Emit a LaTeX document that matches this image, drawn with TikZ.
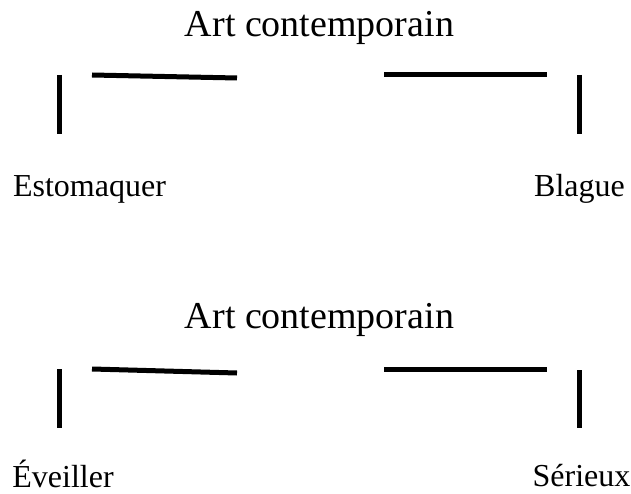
\documentclass[tikz,border=0pt]{standalone}
\usepackage{fontspec}
\setmainfont{Liberation Serif}

\begin{document}
\begin{tikzpicture}[x=1pt,y=-1pt,
        titre/.style={anchor=base, inner sep=0pt, font=\fontsize{38}{42}\selectfont},
        pole/.style={anchor=base, inner sep=0pt, font=\fontsize{32}{36}\selectfont},
        trait/.style={black, line width=5pt}]
        \useasboundingbox (0,0) rectangle (631,494);
        % premier carre
        \node[titre] (titreA) at (319.5,37) {Art contemporain};
        \draw[trait] (59,75) -- (59,134);
        \draw[trait] (92,75) -- (237,78);
        \draw[trait] (384,75) -- (547,75);
        \draw[trait] (579,75) -- (579,134);
        \node[pole] (estomaquer) at (89.5,197) {Estomaquer};
        \node[pole] (blague) at (579.5,197) {Blague};
        % second carre
        \node[titre] (titreB) at (319.5,328) {Art contemporain};
        \draw[trait] (59,369) -- (59,428);
        \draw[trait] (92,369) -- (237,373);
        \draw[trait] (384,369) -- (547,369);
        \draw[trait] (579,370) -- (579,428);
        \node[pole] (eveiller) at (63,487) {Éveiller};
        \node[pole] (serieux) at (581.5,486) {Sérieux};
\end{tikzpicture}
\end{document}
